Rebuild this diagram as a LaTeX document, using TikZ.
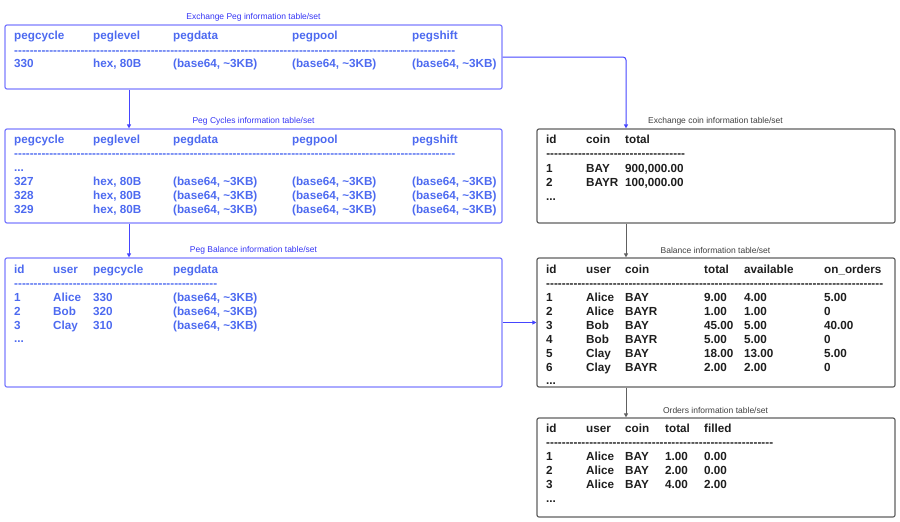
\documentclass[tikz,border=0pt]{standalone}
\usepackage{fontspec}
\setmainfont{Liberation Sans}
\usetikzlibrary{arrows.meta}

\definecolor{pegframe}{HTML}{7C7CFF}
\definecolor{pegtext}{HTML}{4D6AF0}
\definecolor{pegtitle}{HTML}{3535F5}
\definecolor{pegwire}{HTML}{4545FF}
\definecolor{coinframe}{HTML}{606060}
\definecolor{cointext}{HTML}{1E1E1E}
\definecolor{cointitle}{HTML}{404040}

\newcommand{\bsixf}{(base64, \textasciitilde3KB)}
\newcommand{\dashrow}[1]{\hbox to #1{\xleaders\hbox{-}\hfill}}

\tikzset{
  tbox/.style={rounded corners=2pt, line width=1.2pt, minimum width=#1, inner sep=0pt},
  pegbox/.style={tbox=497pt, draw=pegframe},
  coinbox/.style={tbox=358pt, draw=coinframe},
  pegcell/.style={anchor=base west, inner sep=0pt, text=pegtext, font=\fontsize{11.7}{14}\selectfont\bfseries},
  coincell/.style={pegcell, text=cointext},
  pegcap/.style={inner sep=0pt, text=pegtitle, font=\fontsize{8.5}{10}\selectfont},
  coincap/.style={pegcap, text=cointitle},
  pegwire/.style={draw=pegwire, line width=1pt, -{Triangle[length=4pt,width=4pt]}, rounded corners=3pt},
  coinwire/.style={pegwire, draw=coinframe, fill=coinframe}
}

\begin{document}
\begin{tikzpicture}[x=1pt, y=-1pt]
    \useasboundingbox (0,0) rectangle (900,522);

    % Bảng bên trái
    \node[pegbox, minimum height=64pt] (ep) at (253.5,57) {};
    \node[pegbox, minimum height=94pt] (pc) at (253.5,176) {};
    \node[pegbox, minimum height=129pt] (pb) at (253.5,322.5) {};
    \node[pegcap] (ep-cap) at (253.5,17) {Exchange Peg information table/set};
    \node[pegcap] (pc-cap) at (253.5,121) {Peg Cycles information table/set};
    \node[pegcap] (pb-cap) at (253.5,250) {Peg Balance information table/set};

    % Bảng bên phải
    \node[coinbox, minimum height=94pt] (coin) at (716,176) {};
    \node[coinbox, minimum height=129pt] (bal) at (716,322.5) {};
    \node[coinbox, minimum height=99pt] (ord) at (716,467.5) {};
    \node[coincap] (coin-cap) at (715.5,121) {Exchange coin information table/set};
    \node[coincap] (bal-cap) at (715.5,250) {Balance information table/set};
    \node[coincap] (ord-cap) at (715.5,410) {Orders information table/set};

    % Exchange Peg
    \foreach \cx/\txt [count=\i] in {14/pegcycle, 93/peglevel, 173/pegdata, 292/pegpool, 412/pegshift}
        \node[pegcell] (ep-h\i) at (\cx,39) {\txt};
    \node[pegcell] (ep-rule) at (14,54) {\dashrow{441pt}};
    \foreach \cx/\txt [count=\i] in {14/330, 93/{hex, 80B}, 173/\bsixf, 292/\bsixf, 412/\bsixf}
        \node[pegcell] (ep-r\i) at (\cx,67) {\txt};

    % Peg Cycles
    \foreach \cx/\txt [count=\i] in {14/pegcycle, 93/peglevel, 173/pegdata, 292/pegpool, 412/pegshift}
        \node[pegcell] (pc-h\i) at (\cx,143) {\txt};
    \node[pegcell] (pc-rule) at (14,157) {\dashrow{441pt}};
    \node[pegcell] (pc-dots) at (14,171) {...};
    \foreach \cyc [count=\k] in {327,328,329} {
        \pgfmathtruncatemacro\yy{171+14*\k}
        \node[pegcell] (pc-\k a) at (14,\yy) {\cyc};
        \node[pegcell] (pc-\k b) at (93,\yy) {hex, 80B};
        \foreach \cx [count=\j] in {173,292,412}
            \node[pegcell] (pc-\k-\j) at (\cx,\yy) {\bsixf};
    }

    % Peg Balance
    \foreach \cx/\txt [count=\i] in {14/id, 53/user, 93/pegcycle, 173/pegdata}
        \node[pegcell] (pb-h\i) at (\cx,273) {\txt};
    \node[pegcell] (pb-rule) at (14,287) {\dashrow{203pt}};
    \foreach \id/\usr/\cyc [count=\k] in {1/Alice/330, 2/Bob/320, 3/Clay/310} {
        \pgfmathtruncatemacro\yy{287+14*\k}
        \node[pegcell] (pb-\k a) at (14,\yy) {\id};
        \node[pegcell] (pb-\k b) at (53,\yy) {\usr};
        \node[pegcell] (pb-\k c) at (93,\yy) {\cyc};
        \node[pegcell] (pb-\k d) at (173,\yy) {\bsixf};
    }
    \node[pegcell] (pb-dots) at (14,342) {...};

    % Exchange coin
    \foreach \cx/\txt [count=\i] in {546/id, 586/coin, 625/total}
        \node[coincell] (coin-h\i) at (\cx,143) {\txt};
    \node[coincell] (coin-rule) at (546,157) {\dashrow{139pt}};
    \foreach \id/\cn/\tot [count=\k] in {1/BAY/{900,000.00}, 2/BAYR/{100,000.00}} {
        \pgfmathtruncatemacro\yy{158+14*\k}
        \node[coincell] (coin-\k a) at (546,\yy) {\id};
        \node[coincell] (coin-\k b) at (586,\yy) {\cn};
        \node[coincell] (coin-\k c) at (625,\yy) {\tot};
    }
    \node[coincell] (coin-dots) at (546,200) {...};

    % Balance
    \foreach \cx/\txt [count=\i] in {546/id, 586/user, 625/coin, 704/total, 744/available, 824/on\_orders}
        \node[coincell] (bal-h\i) at (\cx,273) {\txt};
    \node[coincell] (bal-rule) at (546,287) {\dashrow{337pt}};
    \foreach \id/\usr/\cn/\tot/\av/\oo [count=\k] in {1/Alice/BAY/9.00/4.00/5.00, 2/Alice/BAYR/1.00/1.00/0,
        3/Bob/BAY/45.00/5.00/40.00, 4/Bob/BAYR/5.00/5.00/0, 5/Clay/BAY/18.00/13.00/5.00, 6/Clay/BAYR/2.00/2.00/0} {
        \pgfmathtruncatemacro\yy{287+14*\k}
        \node[coincell] (bal-\k a) at (546,\yy) {\id};
        \node[coincell] (bal-\k b) at (586,\yy) {\usr};
        \node[coincell] (bal-\k c) at (625,\yy) {\cn};
        \node[coincell] (bal-\k d) at (704,\yy) {\tot};
        \node[coincell] (bal-\k e) at (744,\yy) {\av};
        \node[coincell] (bal-\k f) at (824,\yy) {\oo};
    }
    \node[coincell] (bal-dots) at (546,384) {...};

    % Orders
    \foreach \cx/\txt [count=\i] in {546/id, 586/user, 625/coin, 665/total, 704/filled}
        \node[coincell] (ord-h\i) at (\cx,432) {\txt};
    \node[coincell] (ord-rule) at (546,446) {\dashrow{227pt}};
    \foreach \id/\tot/\fil [count=\k] in {1/1.00/0.00, 2/2.00/0.00, 3/4.00/2.00} {
        \pgfmathtruncatemacro\yy{446+14*\k}
        \node[coincell] (ord-\k a) at (546,\yy) {\id};
        \node[coincell] (ord-\k b) at (586,\yy) {Alice};
        \node[coincell] (ord-\k c) at (625,\yy) {BAY};
        \node[coincell] (ord-\k d) at (665,\yy) {\tot};
        \node[coincell] (ord-\k e) at (704,\yy) {\fil};
    }
    \node[coincell] (ord-dots) at (546,502) {...};

    % Các mũi tên nối
    \draw[pegwire] ([xshift=-124.5pt]ep.south) -- ([xshift=-124.5pt]pc.north);
    \draw[pegwire] ([xshift=-124.5pt]pc.south) -- ([xshift=-124.5pt]pb.north);
    \draw[pegwire] (ep.east) -| ([xshift=-90pt]coin.north);
    \draw[pegwire] (pb.east) -- (bal.west);
    \draw[coinwire] ([xshift=-90pt]coin.south) -- ([xshift=-90pt]bal.north);
    \draw[coinwire] ([xshift=-90pt]bal.south) -- ([xshift=-90pt]ord.north);
\end{tikzpicture}
\end{document}
